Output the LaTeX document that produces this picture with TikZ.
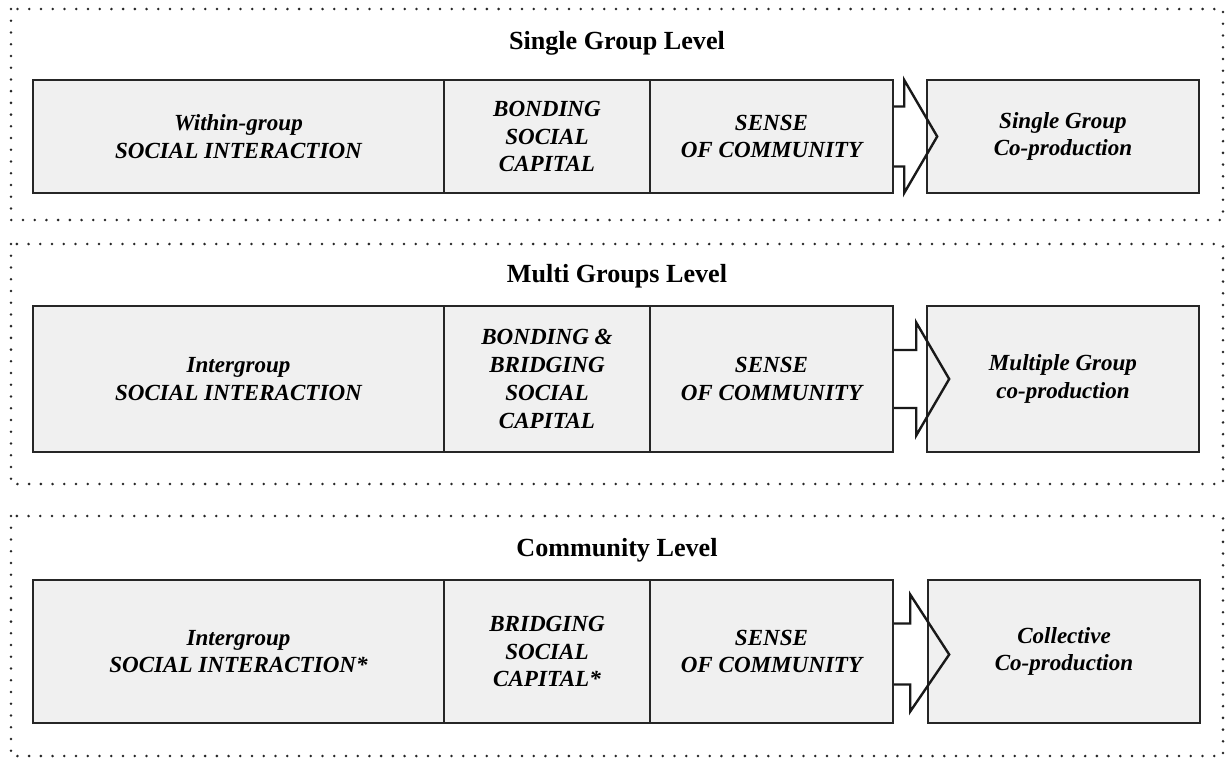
\documentclass[tikz,border=0pt]{standalone}
\usepackage{fontspec}
\setmainfont{Liberation Serif}
\usetikzlibrary{calc}
\tikzset{
  px/.style={x={(0.75pt,0)},y={(0,-0.75pt)}},
  panelframe/.style={draw=black!85,line width=2.1pt,dash pattern=on 0pt off 8.8pt,line cap=round},
  cell/.style={draw=black!85,line width=1.8pt,fill=black!6,rectangle,inner sep=0pt,align=center,
    font=\fontsize{17.3}{20.8}\selectfont\bfseries\itshape},
  paneltitle/.style={font=\fontsize{19.6}{23}\selectfont\bfseries,inner sep=0pt},
  blockarrow/.style={draw=black!90,line width=1.8pt,line join=miter},
}
\begin{document}
\begin{tikzpicture}[px]
\useasboundingbox (0,0) rectangle (1225,758);
% panel frames
\draw[panelframe] (11,9) rectangle (1223,220);
\draw[panelframe] (11,244) rectangle (1223,484);
\draw[panelframe] (11,516) rectangle (1223,756);
% titles
\node[paneltitle] (t1) at (617,43) {Single Group Level};
\node[paneltitle] (t2) at (617,276) {Multi Groups Level};
\node[paneltitle] (t3) at (617,550) {Community Level};
% panel 1
\node[cell,minimum width=411*0.75pt,minimum height=113*0.75pt] (a1) at (238.5,136.5) {Within-group\\SOCIAL INTERACTION};
\node[cell,minimum width=206*0.75pt,minimum height=113*0.75pt] (a2) at (547,136.5) {BONDING\\SOCIAL\\CAPITAL};
\node[cell,minimum width=243*0.75pt,minimum height=113*0.75pt] (a3) at (771.5,136.5) {SENSE\\OF COMMUNITY};
\node[cell,minimum width=272*0.75pt,minimum height=113*0.75pt] (a4) at (1063,136.5) {Single Group\\Co-production};
\draw[blockarrow] ($(a3.east)+(0,-30)$) -- ++(10,0) -- ++(0,-26.5) -- ($(a3.east)+(43,0)$)
  -- ($(a3.east)+(10,56.5)$) -- ++(0,-26.5) -- ($(a3.east)+(0,30)$);
% panel 2
\node[cell,minimum width=411*0.75pt,minimum height=146*0.75pt] (b1) at (238.5,379) {Intergroup\\SOCIAL INTERACTION};
\node[cell,minimum width=206*0.75pt,minimum height=146*0.75pt] (b2) at (547,379) {BONDING \&\\BRIDGING\\SOCIAL\\CAPITAL};
\node[cell,minimum width=243*0.75pt,minimum height=146*0.75pt] (b3) at (771.5,379) {SENSE\\OF COMMUNITY};
\node[cell,minimum width=272*0.75pt,minimum height=146*0.75pt] (b4) at (1063,379) {Multiple Group\\co-production};
\draw[blockarrow] ($(b3.east)+(0,-29)$) -- ++(22,0) -- ++(0,-27.5) -- ($(b3.east)+(55,0)$)
  -- ($(b3.east)+(22,56.5)$) -- ++(0,-27.5) -- ($(b3.east)+(0,29)$);
% panel 3
\node[cell,minimum width=411*0.75pt,minimum height=143*0.75pt] (c1) at (238.5,651.5) {Intergroup\\SOCIAL INTERACTION*};
\node[cell,minimum width=206*0.75pt,minimum height=143*0.75pt] (c2) at (547,651.5) {BRIDGING\\SOCIAL\\CAPITAL*};
\node[cell,minimum width=243*0.75pt,minimum height=143*0.75pt] (c3) at (771.5,651.5) {SENSE\\OF COMMUNITY};
\node[cell,minimum width=272*0.75pt,minimum height=143*0.75pt] (c4) at (1064,651.5) {Collective\\Co-production};
\draw[blockarrow] ($(c3.east)+(0,-28)$) -- ++(16,0) -- ++(0,-29) -- ($(c3.east)+(55,3)$)
  -- ($(c3.east)+(16,60)$) -- ++(0,-27) -- ($(c3.east)+(0,33)$);
\end{tikzpicture}
\end{document}
